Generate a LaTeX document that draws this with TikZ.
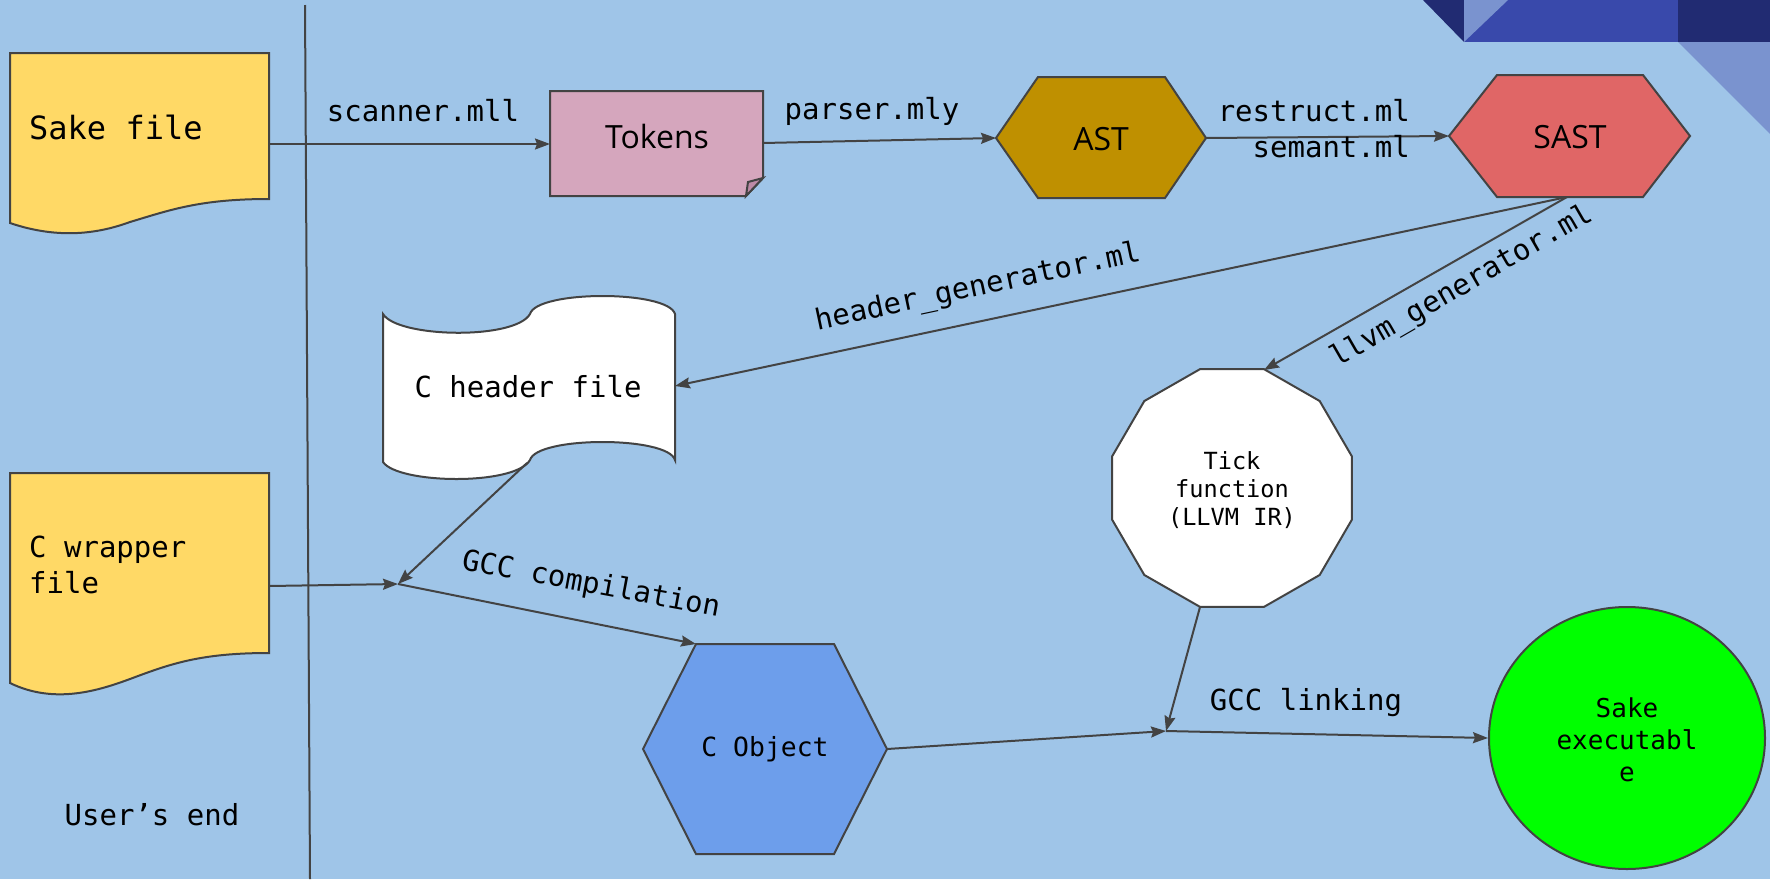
\documentclass[tikz,border=0pt]{standalone}
\usepackage{fontspec}
\setmonofont{DejaVu Sans Mono}
\newfontfamily\sansfont{Open Sans}
\usetikzlibrary{arrows.meta,shapes.geometric}
\definecolor{bgblue}{HTML}{9FC5E8}
\definecolor{edge}{HTML}{434343}
\definecolor{docyellow}{HTML}{FFD966}
\definecolor{tokpink}{HTML}{D5A6BD}
\definecolor{tokfold}{HTML}{BD8AA6}
\definecolor{astgold}{HTML}{BF9000}
\definecolor{sastred}{HTML}{E06666}
\definecolor{objblue}{HTML}{6D9EEB}
\definecolor{exegreen}{HTML}{00FF00}
\definecolor{navy}{HTML}{212B72}
\definecolor{midblue}{HTML}{3949AB}
\definecolor{lightpurple}{HTML}{7A93CF}
\begin{document}
\begin{tikzpicture}[x=1pt,y=-1pt,
  shapeline/.style={draw=edge, line width=2pt, line join=miter},
  arr/.style={draw=edge, line width=2pt, -{Stealth[length=15pt,width=11pt,inset=2pt]}},
  plain/.style={draw=edge, line width=2pt},
  lbl/.style={font=\ttfamily\fontsize{29}{36}\selectfont, inner sep=0pt, text=black},
  sanslbl/.style={font=\sansfont\fontsize{32}{38}\selectfont, inner sep=0pt, text=black},
]
\useasboundingbox (0,0) rectangle (1770,879);
\fill[bgblue] (0,0) rectangle (1770,879);

% top-right decoration
\fill[midblue] (1464,0) rectangle (1678,42);
\fill[navy] (1678,0) rectangle (1770,42);
\fill[navy] (1423,0) -- (1464,0) -- (1464,42) -- cycle;
\fill[lightpurple] (1464,0) -- (1508,0) -- (1464,42) -- cycle;
\fill[lightpurple] (1678,42) -- (1770,42) -- (1770,134) -- cycle;

% separator line
\coordinate (sepTop) at (305,5);
\coordinate (sepBot) at (310,879);
\draw[plain] (sepTop) -- (sepBot);

% Sake file (document)
\draw[shapeline, fill=docyellow] (10,53) -- (269,53) -- (269,199)
  .. controls (200,199) and (170,210) .. (130,222)
  .. controls (100,233) and (60,240) .. (10,223) -- cycle;
\node[lbl, font=\ttfamily\fontsize{32}{38}\selectfont, anchor=west] (sakefile) at (29,127) {Sake file};
\coordinate (sakeE) at (269,144);

% C wrapper file (document)
\draw[shapeline, fill=docyellow] (10,473) -- (269,473) -- (269,653)
  .. controls (200,653) and (170,664) .. (130,679)
  .. controls (100,690) and (55,705) .. (10,683) -- cycle;
\node[lbl, anchor=west, align=left] (wrapper) at (29,565) {C wrapper\\file};
\coordinate (wrapE) at (269,586);

% Tokens (note with folded corner)
\draw[shapeline, fill=tokpink] (550,91) -- (763,91) -- (763,178) -- (746,196) -- (550,196) -- cycle;
\draw[shapeline, fill=tokfold] (746,196) -- (748,182) -- (763,178) -- cycle;
\node[sanslbl] (tokens) at (657,136) {Tokens};
\coordinate (tokW) at (550,144);
\coordinate (tokE) at (763,143);

% AST hexagon
\draw[shapeline, fill=astgold] (996,138) -- (1038,77) -- (1165,77) -- (1206,138) -- (1165,198) -- (1038,198) -- cycle;
\node[sanslbl] (ast) at (1101,139) {AST};
\coordinate (astW) at (996,138);
\coordinate (astE) at (1206,138);

% SAST hexagon
\draw[shapeline, fill=sastred] (1449,136) -- (1497,75) -- (1643,75) -- (1690,136) -- (1643,197) -- (1497,197) -- cycle;
\node[sanslbl] (sast) at (1570,137) {SAST};
\coordinate (sastW) at (1449,136);
\coordinate (sastS) at (1567,197);

% C header file (tape)
\draw[shapeline, fill=white] (383,314)
  .. controls (398,338) and (515,340) .. (530,314)
  .. controls (537,290) and (668,290) .. (675,314)
  -- (675,460)
  .. controls (668,436) and (537,436) .. (530,460)
  .. controls (515,486) and (398,484) .. (383,462) -- cycle;
\node[lbl] (header) at (528,387) {C header file};
\coordinate (hdrE) at (675,386);
\coordinate (hdrS) at (527,463);

% Tick function (dodecagon)
\draw[shapeline, fill=white] plot[samples at={15,45,...,345}] ({1232+124*cos(\x)},{488+123*sin(\x)}) -- cycle;
\node[lbl, font=\ttfamily\fontsize{23.6}{28}\selectfont, align=center] (tick) at (1232,490) {Tick\\function\\(LLVM IR)};
\coordinate (tickNE) at (1264,370);
\coordinate (tickS) at (1200,607);

% C Object hexagon
\draw[shapeline, fill=objblue] (643,749) -- (696,644) -- (834,644) -- (887,749) -- (834,854) -- (696,854) -- cycle;
\node[lbl, font=\ttfamily\fontsize{26.4}{32}\selectfont] (cobj) at (765,749) {C Object};
\coordinate (cobjNW) at (696,644);
\coordinate (cobjE) at (887,749);

% Sake executable
\node[ellipse, draw=edge, line width=2pt, fill=exegreen, minimum width=276pt, minimum height=262pt, inner sep=0pt] (exe) at (1627,738) {};
\node[lbl, font=\ttfamily\fontsize{26}{32}\selectfont, align=center] (exetext) at (1627,740) {Sake\\executabl\\e};

% junctions
\coordinate (j1) at (398,584);
\coordinate (j2) at (1166,731);

% connectors
\draw[arr] (sakeE) -- (tokW);
\draw[arr] (tokE) -- (astW);
\draw[arr] (astE) -- (sastW);
\draw[arr] (sastS) -- (hdrE);
\draw[arr] (sastS) -- (tickNE);
\draw[arr] (hdrS) -- (j1);
\draw[arr] (wrapE) -- (j1);
\draw[arr] (j1) -- (cobjNW);
\draw[arr] (tickS) -- (j2);
\draw[arr] (cobjE) -- (j2);
\draw[arr] (j2) -- (exe.west);

% labels
\node[lbl] (scanner) at (423,111) {scanner.mll};
\node[lbl] (parser) at (872,111) {parser.mly};
\node[lbl, align=right, anchor=east] (restruct) at (1410,129) {restruct.ml\\semant.ml};
\node[lbl, rotate=12] (hgen) at (978,288) {header\_generator.ml};
\node[lbl, rotate=30] (lgen) at (1462,287) {llvm\_generator.ml};
\node[lbl, rotate=-10.5] (gccc) at (591,585) {GCC compilation};
\node[lbl] (gccl) at (1306,703) {GCC linking};
\node[lbl] (user) at (152,815) {User’s end};
\end{tikzpicture}
\end{document}
